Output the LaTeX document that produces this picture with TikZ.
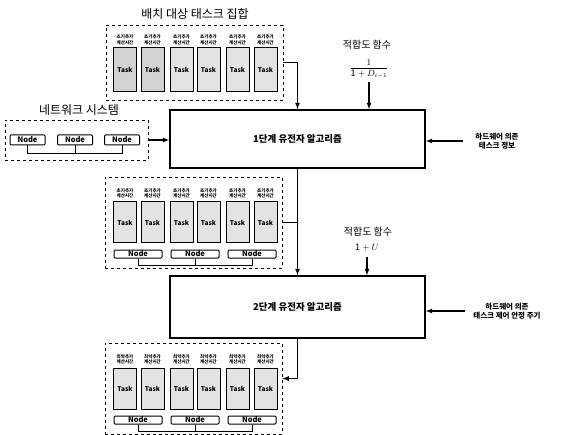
\documentclass[tikz,border=0pt]{standalone}
\usepackage{fontspec}
\setmainfont{Noto Sans CJK KR}
\begin{document}
\begin{tikzpicture}[x=1pt,y=-1pt,>=latex,
        task/.style={draw,line width=1pt,fill=gray!22,minimum width=23pt,minimum height=41pt,inner sep=0pt,font=\fontsize{6.5}{7}\selectfont\bfseries},
        pc/.style={draw,line width=1pt,rounded corners=1pt,minimum width=48pt,minimum height=8pt,inner sep=0pt,font=\fontsize{7.5}{8}\selectfont\bfseries},
        ttime/.style={align=center,inner sep=0pt,font=\fontsize{4.5}{5.5}\selectfont\bfseries},
        group/.style={draw,dashed,thick,inner sep=0pt},
        algo/.style={draw,line width=1.6pt,minimum width=255pt,inner sep=0pt,font=\fontsize{9.5}{11}\selectfont\bfseries},
        hw/.style={align=center,inner sep=0pt,font=\fontsize{7.5}{9.5}\selectfont\bfseries},
        title/.style={inner sep=0pt,font=\fontsize{12}{14}\selectfont},
        link/.style={line width=1.2pt}]
        \useasboundingbox (0,0) rectangle (561,435);

        % task set to be placed
        \node [title] (tsettitle) at (195,14) {배치 대상 태스크 집합};
        \node [group,minimum width=177pt,minimum height=75pt] (tset) at (194.5,62.5) {};
        \node [ttime] (tl1) at (125,40) {초기추가\\계산시간};
        \node [ttime] (tl2) at (152.5,40) {초기추가\\계산시간};
        \node [ttime] (tl3) at (181.5,40) {초기추가\\계산시간};
        \node [ttime] (tl4) at (208.5,40) {초기추가\\계산시간};
        \node [ttime] (tl5) at (237.5,40) {초기추가\\계산시간};
        \node [ttime] (tl6) at (265.5,40) {초기추가\\계산시간};
        \node [task,minimum height=44pt,fill=gray!35] (t1) at (125,70) {Task};
        \node [task,minimum height=44pt,fill=gray!35] (t2) at (152.5,70) {Task};
        \node [task,minimum height=44pt] (t3) at (181.5,70) {Task};
        \node [task,minimum height=44pt] (t4) at (208.5,70) {Task};
        \node [task,minimum height=44pt] (t5) at (237.5,70) {Task};
        \node [task,minimum height=44pt] (t6) at (265.5,70) {Task};

        % network system
        \node [title] (nsettitle) at (79,110) {네트워크 시스템};
        \node [group,minimum width=143pt,minimum height=40pt] (nset) at (76.5,140) {};
        \node [pc,minimum width=35pt,minimum height=10pt] (n1) at (27.5,140) {Node};
        \node [pc,minimum width=35pt,minimum height=10pt] (n2) at (75,140) {Node};
        \node [pc,minimum width=35pt,minimum height=10pt] (n3) at (122,140) {Node};
        \draw [thick] (n1.south) -- ++(0,8) -| (n3.south);
        \draw [thick] (n2.south) -- ++(0,8);

        % first stage
        \node [algo,minimum height=58pt] (ga1) at (297.5,139) {1단계 유전자 알고리즘};
        \node (fit1) at (367,45) {\fontsize{10}{12}\selectfont 적합도 함수};
        \node (frac1) at (369,69) {\fontsize{9}{11}\selectfont$\displaystyle\frac{1}{\mathit{1}+D_{i-1}}$};
        \node [hw] (hw1) at (497,141) {하드웨어 의존\\태스크 정보};
        \draw [link,->] (tset.east) -| (ga1.north);
        \draw [link,->] (nset.east) -- (nset.east -| ga1.west);
        \draw [link,->] (frac1.south) -- (frac1.south |- ga1.north);
        \draw [link,->] ([xshift=-12pt]hw1.west) -- (hw1.west -| ga1.east);

        % result of first stage
        \begin{scope}[shift={(0,177)}]
            \node [group,minimum width=177pt,minimum height=91pt] (mset) at (193.5,45.5) {};
            \node [ttime] (ml1) at (125,16.5) {초기추가\\계산시간};
            \node [ttime] (ml2) at (152.5,16.5) {초기추가\\계산시간};
            \node [ttime] (ml3) at (181.5,16.5) {초기추가\\계산시간};
            \node [ttime] (ml4) at (208.5,16.5) {초기추가\\계산시간};
            \node [ttime] (ml5) at (237.5,16.5) {초기추가\\계산시간};
            \node [ttime] (ml6) at (265.5,16.5) {초기추가\\계산시간};
            \node [task] (m1) at (125,45.5) {Task};
            \node [task] (m2) at (152.5,45.5) {Task};
            \node [task] (m3) at (181.5,45.5) {Task};
            \node [task] (m4) at (208.5,45.5) {Task};
            \node [task] (m5) at (237.5,45.5) {Task};
            \node [task] (m6) at (265.5,45.5) {Task};
            \node [pc] (mn1) at (138,77) {Node};
            \node [pc] (mn2) at (195,77) {Node};
            \node [pc] (mn3) at (252,77) {Node};
            \draw [thick] (mn1.south) -- ++(0,7) -| (mn3.south);
            \draw [thick] (mn2.south) -- ++(0,7);
        \end{scope}

        % second stage
        \node [algo,minimum height=62pt] (ga2) at (297.5,307) {2단계 유전자 알고리즘};
        \node (fit2) at (368,232) {\fontsize{10}{12}\selectfont 적합도 함수};
        \node [inner sep=1pt] (frac2) at (367,248) {\fontsize{9}{11}\selectfont$\mathit{1}+U$};
        \node [hw] (hw2) at (507,311) {하드웨어 의존\\태스크 제어 안정 주기};
        \draw [link,->] (ga1.south) -- (ga2.north);
        \draw [link] (mset.east) -- (mset.east -| ga1.south);
        \draw [link,->] ([yshift=-4pt]frac2.south) -- (frac2.south |- ga2.north);
        \draw [link,->] ([xshift=-8pt]hw2.west) -- (hw2.west -| ga2.east);

        % result of second stage
        \begin{scope}[shift={(0,343)}]
            \node [group,minimum width=177pt,minimum height=91pt] (bset) at (193.5,45.5) {};
            \node [ttime] (bl1) at (125,16.5) {최악추가\\계산시간};
            \node [ttime] (bl2) at (152.5,16.5) {최악추가\\계산시간};
            \node [ttime] (bl3) at (181.5,16.5) {최악추가\\계산시간};
            \node [ttime] (bl4) at (208.5,16.5) {최악추가\\계산시간};
            \node [ttime] (bl5) at (237.5,16.5) {최악추가\\계산시간};
            \node [ttime] (bl6) at (265.5,16.5) {최악추가\\계산시간};
            \node [task] (b1) at (125,45.5) {Task};
            \node [task] (b2) at (152.5,45.5) {Task};
            \node [task] (b3) at (181.5,45.5) {Task};
            \node [task] (b4) at (208.5,45.5) {Task};
            \node [task] (b5) at (237.5,45.5) {Task};
            \node [task] (b6) at (265.5,45.5) {Task};
            \node [pc] (bn1) at (138,77) {Node};
            \node [pc] (bn2) at (195,77) {Node};
            \node [pc] (bn3) at (252,77) {Node};
            \draw [thick] (bn1.south) -- ++(0,7) -| (bn3.south);
            \draw [thick] (bn2.south) -- ++(0,7);
        \end{scope}
        \draw [link,->] (ga2.south) |- ([yshift=10pt]bset.east);
    \end{tikzpicture}
\end{document}
